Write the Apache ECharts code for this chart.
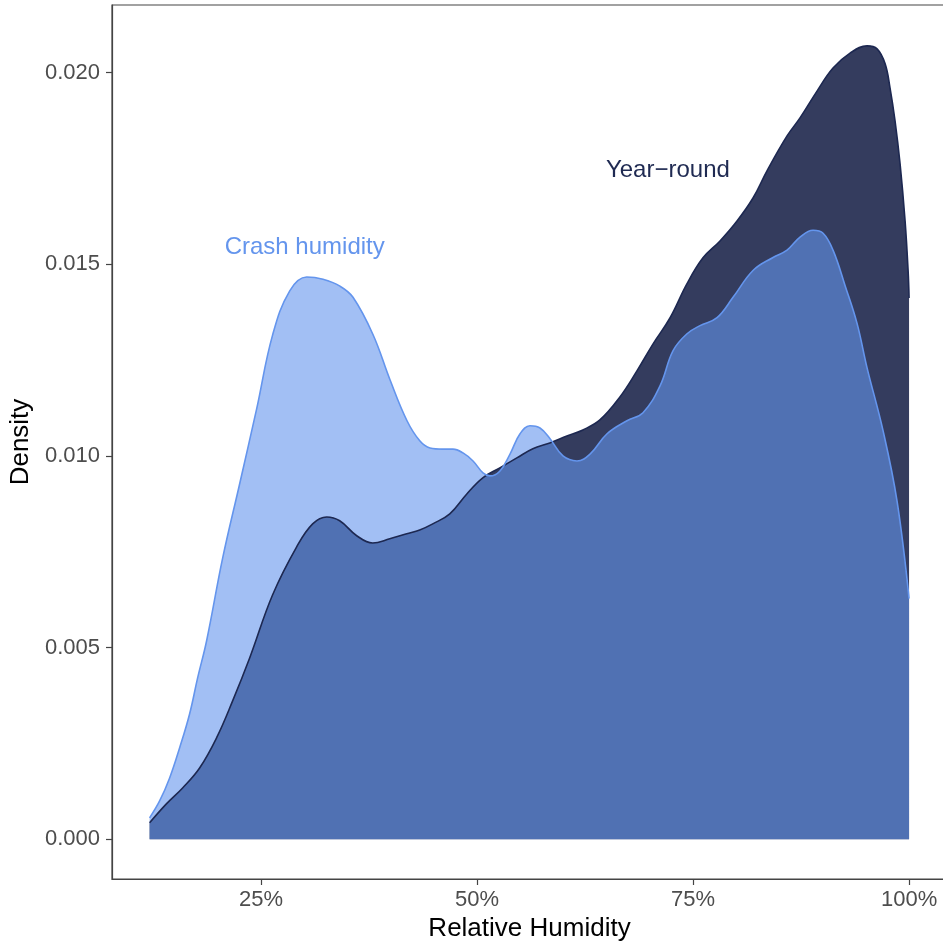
<!DOCTYPE html>
<html>
<head>
<meta charset="utf-8">
<title>Relative humidity density</title>
<script src="https://cdn.jsdelivr.net/npm/echarts@6/dist/echarts.min.js"></script>
<style>
  html, body { margin: 0; padding: 0; background: #fff; }
  #chart { width: 943px; height: 946px; }
</style>
</head>
<body>
<div id="chart"></div>
<script>
// density estimates, x in % relative humidity
const yearRoundX = [12.11, 14.08, 15.93, 17.90, 19.87, 21.72, 23.69, 26.35, 29.13, 30.98, 32.61, 34.11, 36.08, 37.93, 39.90, 41.87, 43.37, 44.88, 46.85, 48.82, 50.67, 52.64, 54.61, 56.46, 58.43, 60.40, 62.25, 64.22, 66.54, 68.51, 70.36, 72.33, 74.29, 76.15, 78.12, 80.09, 81.94, 83.56, 85.88, 87.38, 89.35, 91.20, 93.17, 95.14, 96.30, 97.23, 97.80, 98.38, 98.96, 99.54, 99.89, 100]
const yearRoundY = [0.00043, 0.00093, 0.00134, 0.00186, 0.00265, 0.00361, 0.00473, 0.00638, 0.00763, 0.00823, 0.00841, 0.00831, 0.00792, 0.00773, 0.00784, 0.00797, 0.00807, 0.00823, 0.00849, 0.00901, 0.00943, 0.00969, 0.00995, 0.01019, 0.01034, 0.01052, 0.01068, 0.01094, 0.01154, 0.01222, 0.01292, 0.01360, 0.01449, 0.01517, 0.01561, 0.01613, 0.01673, 0.01744, 0.01835, 0.01882, 0.01952, 0.02012, 0.02051, 0.02070, 0.02062, 0.02023, 0.01960, 0.01874, 0.01762, 0.01613, 0.01483, 0.01412]

const crashX = [12.11, 13.27, 14.43, 15.59, 16.74, 17.67, 18.71, 20.57, 22.53, 24.50, 26.35, 28.33, 30.29, 32.18, 34.14, 35.65, 37.96, 39.93, 41.90, 43.40, 44.56, 46.06, 47.22, 48.38, 49.54, 50.69, 51.50, 52.66, 53.82, 54.98, 56.13, 57.29, 58.45, 59.95, 61.57, 63.08, 65.05, 67.36, 69.21, 71.18, 72.69, 74.31, 75.81, 77.78, 79.63, 81.94, 84.26, 85.88, 87.38, 88.89, 90.05, 91.20, 92.59, 93.98, 95.14, 96.99, 98.61, 100]
const crashY = [0.00056, 0.00100, 0.00160, 0.00239, 0.00327, 0.00421, 0.00518, 0.00734, 0.00927, 0.01123, 0.01316, 0.01431, 0.01467, 0.01461, 0.01443, 0.01414, 0.01317, 0.01199, 0.01092, 0.01039, 0.01021, 0.01018, 0.01018, 0.01008, 0.00987, 0.00956, 0.00948, 0.00961, 0.01005, 0.01058, 0.01079, 0.01073, 0.01045, 0.01000, 0.00987, 0.01005, 0.01058, 0.01092, 0.01113, 0.01183, 0.01275, 0.01319, 0.01340, 0.01361, 0.01414, 0.01484, 0.01518, 0.01537, 0.01571, 0.01589, 0.01581, 0.01537, 0.01445, 0.01346, 0.01230, 0.01066, 0.00882, 0.00628]

const xTicks = [25, 50, 75, 100]
const yTicks = [0, 0.005, 0.01, 0.015, 0.02]

const labels = [
  { text: 'Crash humidity', x: 30.06, y: 0.01545, color: '#6495ED' },
  { text: 'Year\u2212round', x: 72.09, y: 0.01746, color: '#1f2a52' }
]

const zip = (xs, ys) => xs.map((v, i) => [v, ys[i]])
const font = '"Liberation Sans", Arial, sans-serif'

const chart = echarts.init(document.getElementById('chart'))

const option = {
  animation: false,
  grid: {
    left: 112,
    top: 5,
    width: 835,
    height: 874,
    outerBoundsMode: 'none',
    containLabel: false,
    show: true,
    borderColor: '#444',
    borderWidth: 1.2
  },
  xAxis: {
    type: 'value',
    min: 7.76,
    max: 104.39,
    name: 'Relative Humidity',
    nameLocation: 'middle',
    nameGap: 37,
    nameTextStyle: { color: '#000', fontSize: 26, fontFamily: font },
    splitLine: { show: false },
    axisLine: { onZero: false, lineStyle: { color: '#444', width: 1.2 } },
    axisTick: { length: 6, customValues: xTicks, lineStyle: { color: '#444', width: 1.2 } },
    axisLabel: {
      customValues: xTicks,
      formatter: v => v + '%',
      margin: 10,
      color: '#4d4d4d',
      fontSize: 22,
      fontFamily: font
    }
  },
  yAxis: {
    type: 'value',
    min: -0.001036,
    max: 0.021766,
    name: 'Density',
    nameLocation: 'middle',
    nameGap: 76,
    nameRotate: 90,
    nameTextStyle: { color: '#000', fontSize: 26, fontFamily: font },
    splitLine: { show: false },
    axisLine: { show: true, onZero: false, lineStyle: { color: '#444', width: 1.2 } },
    axisTick: { show: true, length: 6, customValues: yTicks, lineStyle: { color: '#444', width: 1.2 } },
    axisLabel: {
      customValues: yTicks,
      formatter: v => v.toFixed(3),
      margin: 12,
      color: '#4d4d4d',
      fontSize: 22,
      fontFamily: font
    }
  },
  series: [
    {
      name: 'Year-round',
      type: 'line',
      smooth: 0.4,
      symbol: 'none',
      data: zip(yearRoundX, yearRoundY),
      lineStyle: { color: '#1d2851', width: 1.6 },
      areaStyle: { color: '#343c5e', opacity: 1 }
    },
    {
      name: 'Crash humidity',
      type: 'line',
      smooth: 0.4,
      symbol: 'none',
      data: zip(crashX, crashY),
      lineStyle: { color: '#6495ED', width: 1.6 },
      areaStyle: { color: 'rgba(100, 149, 237, 0.6)', opacity: 1 }
    },
    {
      type: 'scatter',
      silent: true,
      symbolSize: 0,
      itemStyle: { opacity: 1 },
      data: labels.map(l => ({
        value: [l.x, l.y],
        label: {
          show: true,
          position: 'inside',
          formatter: l.text,
          color: l.color,
          opacity: 1,
          fontSize: 24,
          fontFamily: font
        }
      }))
    }
  ]
}

chart.setOption(option)
</script>
</body>
</html>
